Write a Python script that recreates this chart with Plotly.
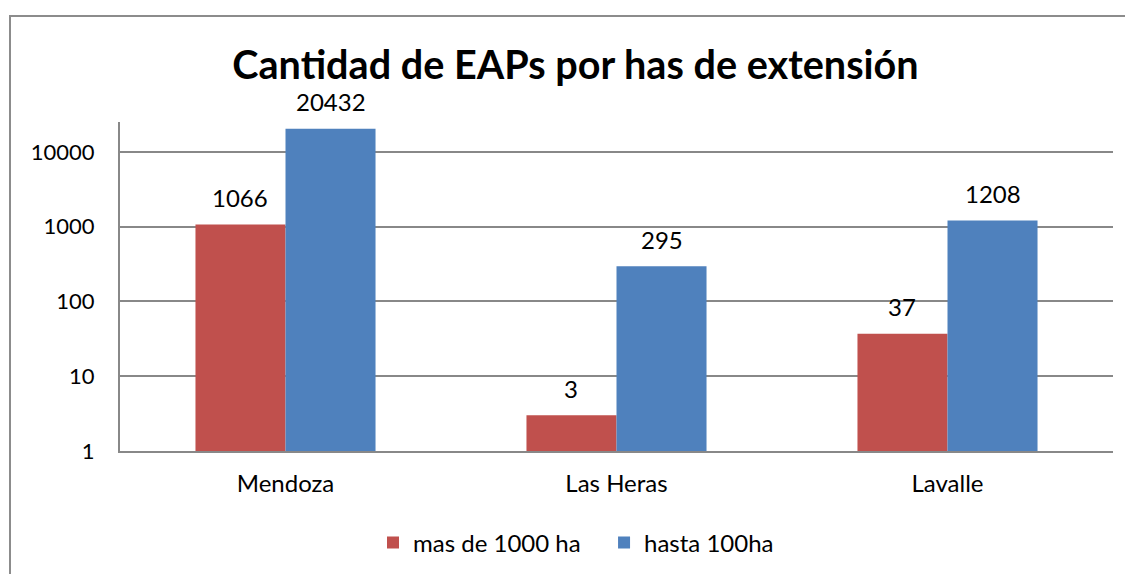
"""Cantidad de EAPs por has de extensión — barras agrupadas, eje log."""

import math

import plotly.graph_objects as go

CATEGORIES = ["Mendoza", "Las Heras", "Lavalle"]
MAS_DE_1000 = [1066, 3, 37]
HASTA_100 = [20432, 295, 1208]
SERIES_NAMES = ["mas de 1000 ha", "hasta 100ha"]
Y_TICKS = [1, 10, 100, 1000, 10000]

RED = "#C0504D"
BLUE = "#4F81BD"
FONT = "Lato, 'Open Sans', sans-serif"

# the page puts the figure 8px in from the corner, so everything is shifted
OFF = 8
W, H = 1133 - OFF, 574 - OFF
L, R, T, B = 120 - OFF, 20, 122 - OFF, 123
BARGAP = 0.456

pw, ph = W - L - R, H - T - B
bar_px = pw / len(CATEGORIES) * (1 - BARGAP) / 2


def px_x(p):
    return (p - OFF - L) / pw


def px_y(p):
    return (H - B - (p - OFF)) / ph


fig = go.Figure()
series = [(SERIES_NAMES[0], MAS_DE_1000, RED), (SERIES_NAMES[1], HASTA_100, BLUE)]
for i, (name, vals, color) in enumerate(series):
    fig.add_trace(go.Bar(
        x=CATEGORIES, y=vals, name=name + "\u00a0\u00a0\u00a0",
        marker=dict(color=color, line=dict(width=0)),
    ))
    # etiquetas de valor (en eje log las anotaciones van en log10)
    for cat, v in zip(CATEGORIES, vals):
        fig.add_annotation(x=cat, y=math.log10(v), text=str(v), showarrow=False,
                           xshift=(i - 0.5) * bar_px, yshift=27, yanchor="middle",
                           font=dict(family=FONT, size=24, color="#000000"))

fig.update_layout(
    width=W, height=H,
    margin=dict(l=L, r=R, t=T, b=B),
    paper_bgcolor="white", plot_bgcolor="white",
    font=dict(family=FONT, size=24, color="#000000"),
    barmode="group", bargap=BARGAP, bargroupgap=0,
    title=dict(text="<b>Cantidad de EAPs por has de extensión</b>",
               font=dict(size=39.6, color="#000000"),
               x=(575.5 - OFF) / W, xanchor="center", y=1 - (65 - OFF) / H, yanchor="middle"),
    legend=dict(orientation="h", x=px_x(585), xanchor="center", y=(H - (543 - OFF)) / H,
                yref="container", yanchor="middle",
                font=dict(size=24), traceorder="normal"),
    showlegend=True,
)
fig.update_xaxes(showline=True, linecolor="#888888", linewidth=2,
                 ticks="", showgrid=False, tickfont=dict(size=24),
                 ticklabelstandoff=10, automargin=False)
fig.update_yaxes(type="log", range=[0, 4.4], tickvals=Y_TICKS,
                 ticktext=[str(v) for v in Y_TICKS],
                 showline=True, linecolor="#888888", linewidth=2,
                 showgrid=True, gridcolor="#888888", gridwidth=2,
                 zeroline=False, tickfont=dict(size=22), ticklabelstandoff=19,
                 automargin=False)

# marco exterior del gráfico
fig.add_shape(type="rect", xref="paper", yref="paper",
              x0=px_x(10), x1=px_x(1150), y0=px_y(590), y1=px_y(16),
              line=dict(color="#8C8C8C", width=2), fillcolor="rgba(0,0,0,0)")

fig.write_html("out.html")
